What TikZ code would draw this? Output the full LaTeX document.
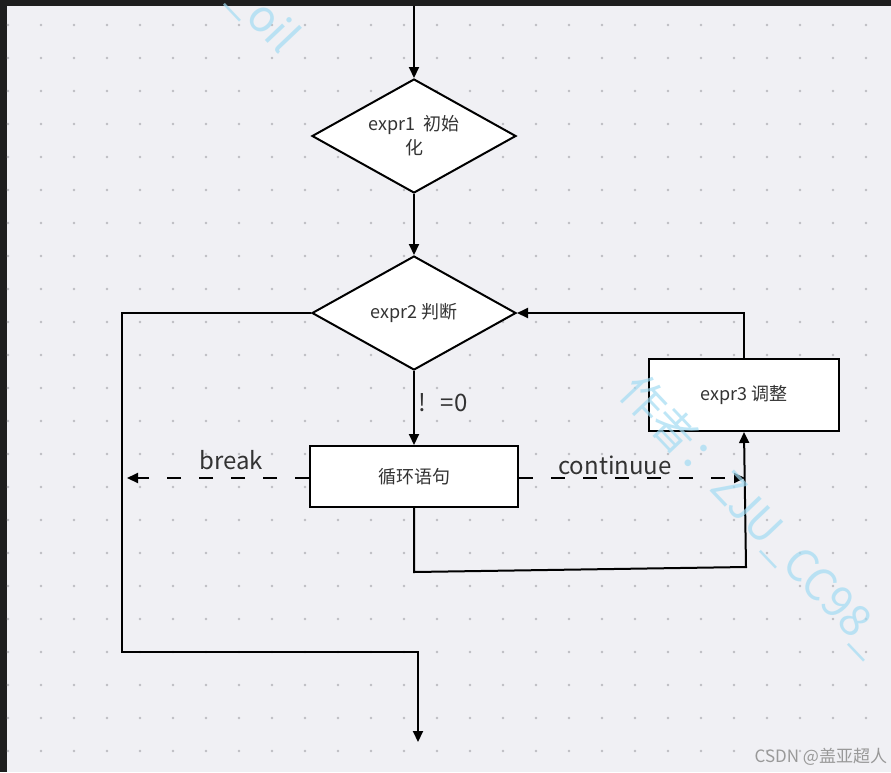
\documentclass[tikz,border=0pt]{standalone}
\usepackage{fontspec}
\newfontfamily\cjk{Noto Sans CJK SC}
\usetikzlibrary{shapes.geometric,arrows.meta}
\definecolor{bg}{HTML}{F0F0F4}
\definecolor{dotc}{HTML}{BDBDC2}
\definecolor{txt}{HTML}{333333}
\definecolor{wm}{HTML}{A3DCF3}
\definecolor{dark}{HTML}{1E1E1E}
\definecolor{sig}{HTML}{999999}
\begin{document}
\begin{tikzpicture}[x=1pt,y=-1pt,line width=2pt,
  dec/.style={draw=black,fill=white,diamond,minimum width=204pt,minimum height=114pt,inner sep=0pt},
  dtext/.style={font=\cjk\fontsize{18}{24}\selectfont,text=txt,align=center,inner sep=0pt},
  blk/.style={draw=black,fill=white,rectangle,inner sep=0pt,font=\cjk\fontsize{18}{22}\selectfont,text=txt},
  arr/.style={-{Triangle[length=11pt,width=10pt]}},
  dsh/.style={arr,dash pattern=on 14pt off 18pt},
  lbl/.style={font=\cjk\fontsize{24}{28}\selectfont,text=txt,inner sep=0pt},
  wmk/.style={font=\cjk\fontsize{44}{48}\selectfont,text=wm,opacity=0.7,inner sep=0pt,rotate=-46.5}]
\useasboundingbox (0,0) rectangle (891,772);
\begin{scope}
\clip (0,0) rectangle (891,772);
% background
\fill[bg] (0,0) rectangle (891,772);
\fill[dark] (0,0) rectangle (891,6);
\fill[dark] (0,0) rectangle (7,772);
\foreach \i in {0,...,26} {
  \foreach \j in {0,...,22} {
    \fill[dotc] (8+33*\i,25+33*\j) circle (1.3pt);
  }
}
% nodes
\node[dec] (d1) at (414,136) {};
\node[dtext] (t1) at (d1.center) {expr1\hspace{8pt}初始\\化};
\node[dec] (d2) at (414,313) {};
\node[dtext] (t2) at (d2.center) {expr2 判断};
\node[blk,minimum width=208pt,minimum height=61pt] (b1) at (414,476.5) {循环语句};
\node[blk,minimum width=190pt,minimum height=72pt] (b2) at (744,395) {expr3 调整};
% coordinates
\coordinate (top) at (414,6);
\coordinate (brk) at (127,478);
\coordinate (cnt) at (745,478);
\coordinate (p1) at (414,572);
\coordinate (p2) at (746,567);
\coordinate (q1) at (122,313);
\coordinate (q2) at (122,652);
\coordinate (q3) at (418,652);
\coordinate (q4) at (418,742);
% connectors
\draw[arr] (top) -- (d1.north);
\draw[arr] (d1.south) -- (d2.north);
\draw[arr] (d2.south) -- (b1.north);
\node[lbl,anchor=west] (ne) at (417,403) {!\hspace{15pt}=0};
\draw[dsh] (b1.west |- brk) -- (brk);
\node[lbl] (lbrk) at (231,460) {break};
\draw[dsh] (b1.east |- cnt) -- (cnt);
\node[lbl] (lcnt) at (615,465) {continuue};
\draw[arr] (b1.south) -- (p1) -- (p2) -- (b2.south);
\draw[arr] (b2.north) |- (d2.east);
\draw[arr] (d2.west) -- (q1) -- (q2) -- (q3) -- (q4);
% watermarks
\node[wmk,anchor=west] (w1) at (628,382) {作者：ZJU\_CC98\_};
\node[wmk,anchor=east] (w2) at (291,46) {\_oil};
\node[wmk,anchor=west] (w3) at (244,790) {作};
\node[anchor=east,font=\cjk\fontsize{17}{20}\selectfont,text=sig,inner sep=0pt] (csdn) at (888,757) {CSDN @盖亚超人};
\end{scope}
\end{tikzpicture}
\end{document}
